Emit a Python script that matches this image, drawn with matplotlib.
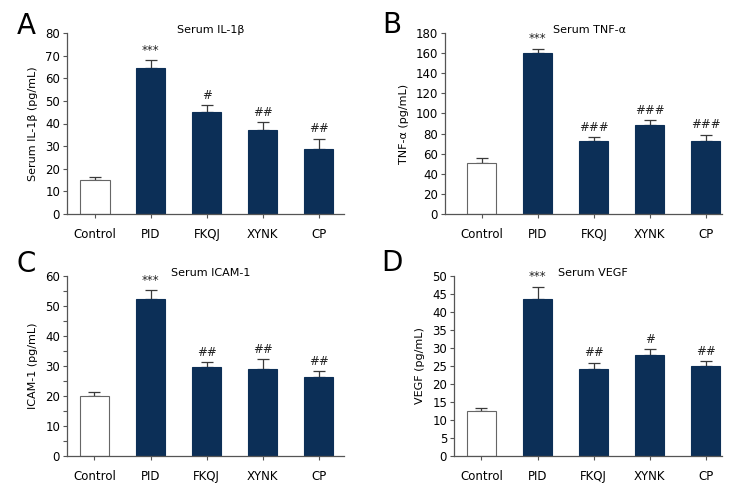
import matplotlib
matplotlib.use("Agg")
import matplotlib.pyplot as plt
from matplotlib.ticker import MultipleLocator

plt.rcParams["font.family"] = ["Liberation Sans Narrow", "DejaVu Sans"]

groups = ["Control", "PID", "FKQJ", "XYNK", "CP"]

il1b_mean = [14.9, 64.6, 45.3, 37.0, 28.8]
il1b_err = [1.6, 3.4, 2.8, 3.6, 4.4]
il1b_marks = ["", "***", "#", "##", "##"]

tnfa_mean = [51.1, 160.0, 72.7, 89.0, 72.7]
tnfa_err = [5.0, 4.4, 3.7, 4.0, 6.0]
tnfa_marks = ["", "***", "###", "###", "###"]

icam_mean = [20.1, 52.4, 29.7, 29.1, 26.3]
icam_err = [1.3, 2.8, 1.6, 3.2, 1.9]
icam_marks = ["", "***", "##", "##", "##"]

vegf_mean = [12.4, 43.5, 24.2, 28.1, 24.9]
vegf_err = [0.9, 3.5, 1.7, 1.6, 1.4]
vegf_marks = ["", "***", "##", "#", "##"]

NAVY = "#0c2f57"
SPINE = "#555555"

panels = [
    # letter, title, ylabel, means, errs, marks, ymax, major, minor,
    # axes rect (px), xlim, letter centre (px)
    ("A", "Serum IL-1\u03b2", "Serum IL-1\u03b2 (pg/mL)", il1b_mean, il1b_err,
     il1b_marks, 80, 10, None, [67, 33, 277, 181], (-0.5, 4.45), (26, 26)),
    ("B", "Serum TNF-\u03b1", "TNF-\u03b1 (pg/mL)", tnfa_mean, tnfa_err,
     tnfa_marks, 180, 20, None, [445, 33, 277, 181], (-0.66, 4.29), (392, 25)),
    ("C", "Serum ICAM-1", "ICAM-1 (pg/mL)", icam_mean, icam_err,
     icam_marks, 60, 10, 5, [67, 276, 277, 180], (-0.49, 4.45), (26, 264)),
    ("D", "Serum VEGF", "VEGF (pg/mL)", vegf_mean, vegf_err,
     vegf_marks, 50, 5, None, [454, 276, 268, 180], (-0.49, 4.29), (392, 263)),
]

W, H = 756, 504
fig = plt.figure(figsize=(W / 100, H / 100), dpi=100)

for (letter, title, ylabel, means, errs, marks, ymax, major, minor, rect,
     xlim, lpos) in panels:
    x0, top, w, h = rect
    ax = fig.add_axes([x0 / W, 1 - (top + h) / H, w / W, h / H])
    x = list(range(len(groups)))
    colors = ["white"] + [NAVY] * (len(groups) - 1)
    edges = ["#666666"] + [NAVY] * (len(groups) - 1)
    ax.bar(x, means, width=0.52, color=colors, edgecolor=edges, linewidth=0.8,
           zorder=2)
    ax.errorbar(x, means, yerr=[[0] * len(errs), errs], fmt="none",
                ecolor="#3a3a3a", elinewidth=0.9, capsize=4.5, capthick=0.9,
                zorder=1)
    for xi, m, e, mk in zip(x, means, errs, marks):
        if mk:
            ax.annotate(mk, (xi, m + e), xytext=(0, 2.5),
                        textcoords="offset points", ha="center", va="bottom",
                        fontsize=8.5, color="#222222")

    ax.set_xlim(*xlim)
    ax.set_ylim(0, ymax)
    ax.yaxis.set_major_locator(MultipleLocator(major))
    if minor:
        ax.yaxis.set_minor_locator(MultipleLocator(minor))
    ax.set_xticks(x)
    ax.set_xticklabels(groups, fontsize=8.5, va="baseline")
    ax.tick_params(axis="y", labelsize=8.5, length=3, width=0.8,
                   color=SPINE, pad=2)
    ax.tick_params(axis="y", which="minor", length=3, width=0.8, color=SPINE)
    ax.tick_params(axis="x", length=3, width=0.8, color=SPINE, pad=14)
    for side in ["top", "right"]:
        ax.spines[side].set_visible(False)
    for side in ["left", "bottom"]:
        ax.spines[side].set_color(SPINE)
        ax.spines[side].set_linewidth(0.9)
    ax.set_ylabel(ylabel, fontsize=8, labelpad=5)
    ax.text(0.52, 1.015, title, transform=ax.transAxes, ha="center",
            va="center", fontsize=8)
    fig.text(lpos[0] / W, 1 - lpos[1] / H, letter, fontsize=20,
             ha="center", va="center")

fig.savefig("out.png", dpi=100)
